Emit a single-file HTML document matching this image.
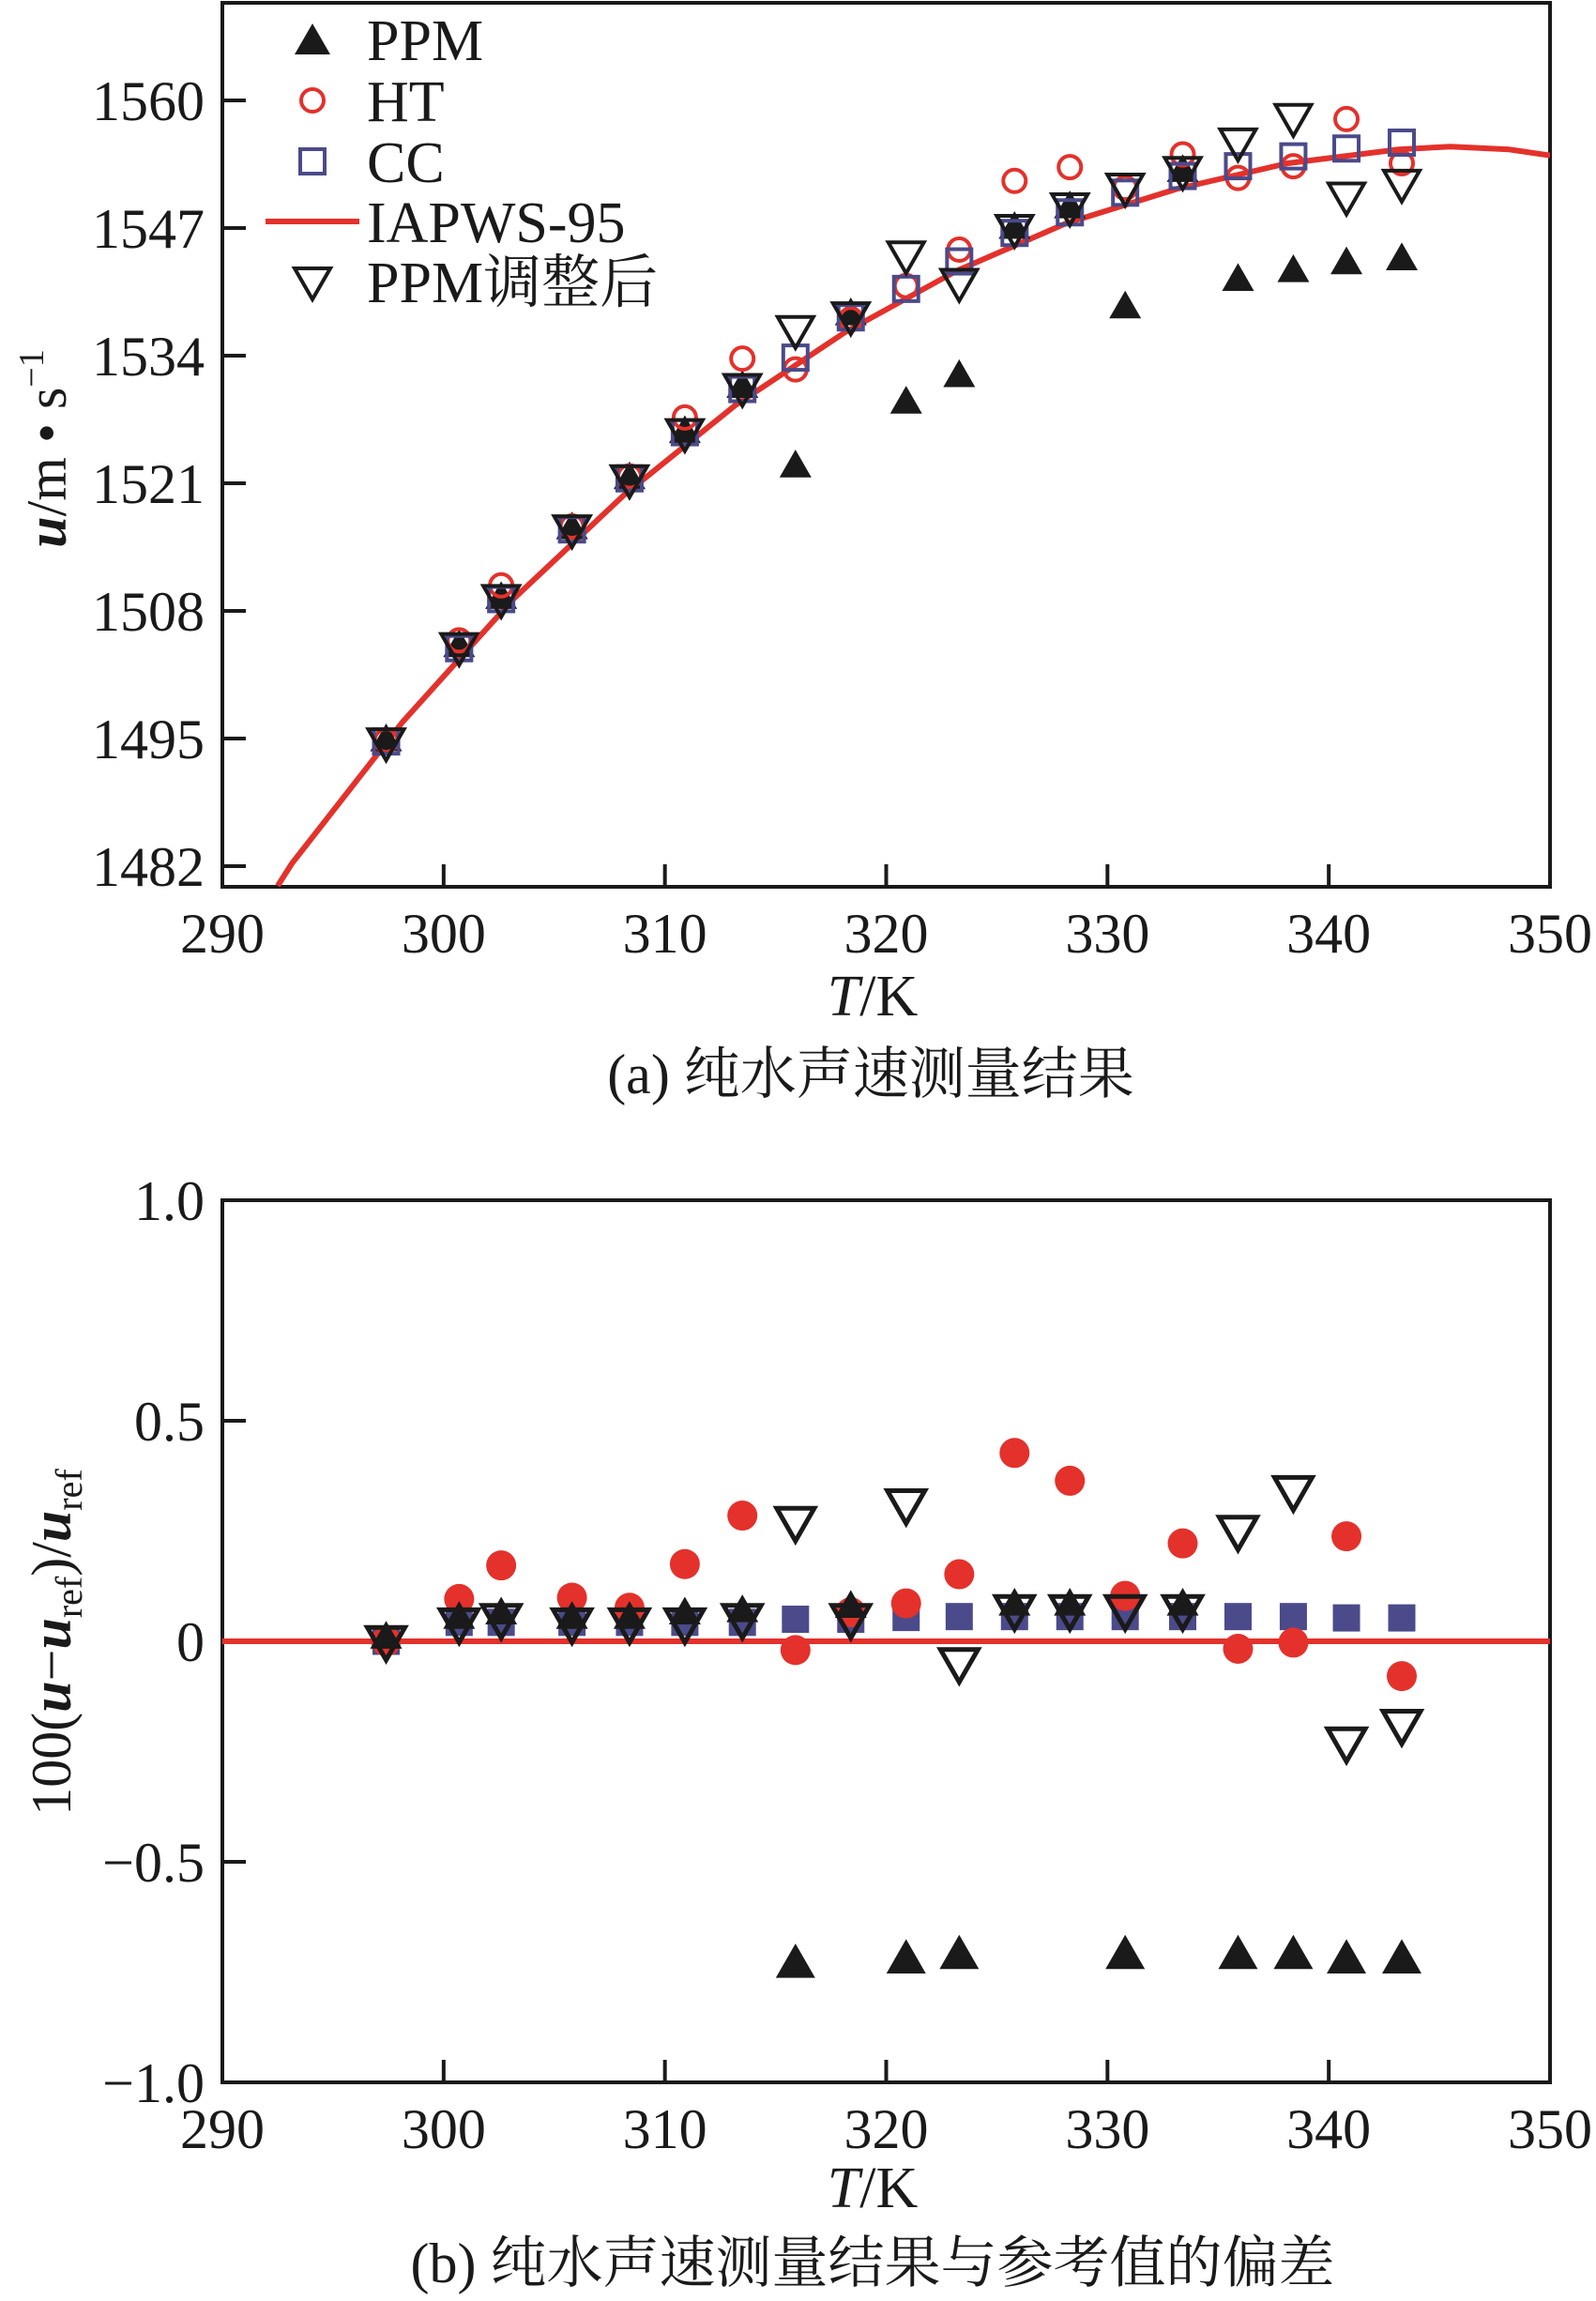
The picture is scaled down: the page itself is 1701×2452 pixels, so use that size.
<!DOCTYPE html>
<html><head><meta charset="utf-8">
<style>
html,body{margin:0;padding:0;background:#fff;}
svg{display:block;}
text{font-family:"Liberation Serif","Noto Serif CJK SC","Noto Sans CJK SC",serif;fill:#1a1a1a;}
</style></head>
<body>
<svg id="fig" width="1701" height="2452" viewBox="0 0 1701 2452" xmlns="http://www.w3.org/2000/svg">
<g id="top"></g>
<g id="bot"></g>
</svg>
<script>
const temps = [297.4,300.7,302.6,305.8,308.4,310.9,313.5,315.9,318.4,320.9,323.3,325.8,328.3,330.8,333.4,335.9,338.4,340.8,343.3];
// top chart values (m/s)
const uPPM = [1494.9,1504.5,1509.4,1516.5,1521.6,1526.3,1530.9,1522.8,1538.3,1529.3,1532.0,1547.1,1549.2,1539.0,1552.9,1541.8,1542.7,1543.5,1543.9];
const uHT  = [1494.8,1505.0,1510.6,1516.6,1521.7,1527.7,1533.7,1532.6,1537.7,1541.1,1544.8,1551.8,1553.2,1551.1,1554.5,1552.1,1553.3,1558.1,1553.6];
const uCC  = [1494.7,1504.2,1509.2,1516.3,1521.5,1526.2,1530.6,1533.8,1537.9,1540.8,1543.6,1546.5,1548.6,1550.6,1552.3,1553.3,1554.3,1555.1,1555.7];
const uADJ = [1494.6,1504.3,1509.2,1516.3,1521.4,1526.1,1530.7,1536.6,1538.0,1544.2,1541.4,1546.9,1549.1,1551.1,1552.8,1555.7,1558.2,1550.2,1551.5];
const refT = [292.5,293.15,298.15,303.15,308.15,313.15,318.15,323.15,328.15,333.15,338.15,343.15,345.5,348.15,350];
const refU = [1480.0,1482.3,1496.7,1509.2,1519.8,1528.9,1536.4,1542.6,1547.5,1551.0,1553.6,1555.0,1555.3,1555.0,1554.4];
const topTicks = [1482,1495,1508,1521,1534,1547,1560];
const xTicks = [290,300,310,320,330,340,350];
// bottom chart deviations (%)
const dPPM = [0.01,0.055,0.065,0.055,0.055,0.065,0.07,-0.73,0.08,-0.72,-0.71,0.085,0.085,-0.71,0.085,-0.71,-0.71,-0.72,-0.72];
const dHT  = [0.00,0.096,0.172,0.099,0.076,0.175,0.285,-0.02,0.066,0.086,0.152,0.427,0.364,0.103,0.222,-0.017,-0.003,0.238,-0.079];
const dCC  = [0.00,0.043,0.043,0.043,0.043,0.043,0.043,0.050,0.050,0.054,0.056,0.056,0.056,0.056,0.056,0.056,0.056,0.053,0.053];
const dADJ = [0.00,0.04,0.05,0.04,0.04,0.04,0.05,0.27,0.05,0.31,-0.05,0.07,0.07,0.07,0.07,0.25,0.34,-0.23,-0.19];
const botTicks = [-1.0,-0.5,0,0.5,1.0];
const botTickLabels = ["\u22121.0","\u22120.5","0","0.5","1.0"];

const NS='http://www.w3.org/2000/svg';
function mk(parent,tag,attrs,text){const e=document.createElementNS(NS,tag);for(const k in attrs)e.setAttribute(k,attrs[k]);if(text!==undefined)e.textContent=text;parent.appendChild(e);return e;}
const RED='#e4312b', BLUE='#4b4a8a', BLK='#1a1a1a';
const L=237,R=1652;
const xs = t => L+(t-290)/60*(R-L);

function triUp(g,x,y,s){return mk(g,'polygon',{points:`${x},${y-s*0.5} ${x-s*0.5},${y+s*0.37} ${x+s*0.5},${y+s*0.37}`,fill:BLK});}
function triDown(g,x,y,s,sw){return mk(g,'polygon',{points:`${x-s*0.5},${y-s*0.37} ${x+s*0.5},${y-s*0.37} ${x},${y+s*0.5}`,fill:'none',stroke:BLK,'stroke-width':sw});}

function frame(g,T,B){
  const f=mk(g,'rect',{x:L,y:T,width:R-L,height:B-T,fill:'none',stroke:BLK,'stroke-width':4});
  
  
  xTicks.forEach(t=>{
    const x=xs(t);
    const tk=mk(g,'line',{x1:x,y1:B,x2:x,y2:B-24,stroke:BLK,'stroke-width':4});
    
    
    const lb=mk(g,'text',{x:x,y:B+70,'font-size':60,'text-anchor':'middle'},String(t));
    
    
  });
}

/* ---------- TOP ---------- */
(function(){
  const g=document.getElementById('top');
  const T=3,B=945;
  const ys=u=>107+(1560-u)*(243-107)/13;
  frame(g,T,B);
  topTicks.forEach(v=>{
    const y=ys(v);
    const tk=mk(g,'line',{x1:L,y1:y,x2:L+25,y2:y,stroke:BLK,'stroke-width':4});
    
    
    const lb=mk(g,'text',{x:218,y:y+21,'font-size':60,'text-anchor':'end'},String(v));
    
    
  });
  let d='';refT.forEach((t,i)=>{d+=(i?'L':'M')+xs(t).toFixed(1)+','+ys(refU[i]).toFixed(1);});
  const cp=mk(g,'clipPath',{id:'clipTop'});mk(cp,'rect',{x:L,y:T,width:R-L,height:B-T});
  const c=mk(g,'path',{d:d,fill:'none',stroke:RED,'stroke-width':6,'clip-path':'url(#clipTop)'});
  
  
  temps.forEach((t,i)=>{
    const x=xs(t);
    const a=triUp(g,x,ys(uPPM[i]),34);
    
    
    const b=mk(g,'circle',{cx:x,cy:ys(uHT[i]),r:12,fill:'none',stroke:RED,'stroke-width':4});
    
    
    const s=mk(g,'rect',{x:x-13,y:ys(uCC[i])-13,width:26,height:26,fill:'none',stroke:BLUE,'stroke-width':4});
    
    
    const v=triDown(g,x,ys(uADJ[i]),38,4);
    
    
  });
  const yt=mk(g,'text',{transform:'translate(70,478) rotate(-90)','font-size':60,'text-anchor':'middle'});
  
  
  yt.innerHTML='<tspan font-style="italic" font-weight="bold">u</tspan>/m \u2022 s<tspan font-size="38" dy="-24">\u22121</tspan>';
  const xt=mk(g,'text',{x:930,y:1082,'font-size':62,'text-anchor':'middle'});
  
  
  xt.innerHTML='<tspan font-style="italic">T</tspan>/K';
  const cap=mk(g,'text',{x:928,y:1165,'font-size':60,'text-anchor':'middle'},'(a) 纯水声速测量结果');
  
  
  const lg=mk(g,'g',{});
  
  
  const rows=[42,107,172,236,300];
  const names=['PPM','HT','CC','IAPWS-95','PPM调整后'];
  triUp(lg,333,rows[0]+2,38);
  mk(lg,'circle',{cx:333,cy:rows[1],r:12,fill:'none',stroke:RED,'stroke-width':4});
  mk(lg,'rect',{x:320,y:rows[2]-13,width:26,height:26,fill:'none',stroke:BLUE,'stroke-width':4});
  mk(lg,'line',{x1:283,y1:rows[3],x2:383,y2:rows[3],stroke:RED,'stroke-width':6});
  triDown(lg,333,rows[4],38,4);
  names.forEach((n,i)=>{
    const e=mk(lg,'text',{x:391,y:rows[i]+22,'font-size':62},n);
    
    
  });
})();

/* ---------- BOTTOM ---------- */
(function(){
  const g=document.getElementById('bot');
  const T=1279,B=2219;
  const ys=v=>1749-v*470;
  frame(g,T,B);
  botTicks.forEach((v,i)=>{
    const y=ys(v);
    const tk=mk(g,'line',{x1:L,y1:y,x2:L+25,y2:y,stroke:BLK,'stroke-width':4});
    
    
    const lb=mk(g,'text',{x:218,y:y+21,'font-size':60,'text-anchor':'end'},botTickLabels[i]);
    
    
  });
  const z=mk(g,'line',{x1:L,y1:ys(0),x2:R,y2:ys(0),stroke:RED,'stroke-width':6});
  
  
  temps.forEach((t,i)=>{
    const x=xs(t);
    const s=mk(g,'rect',{x:x-14.5,y:ys(dCC[i])-14.5,width:29,height:29,fill:BLUE});
    
    
    const b=mk(g,'circle',{cx:x,cy:ys(dHT[i]),r:16,fill:RED});
    
    
    const a=triUp(g,x,ys(dPPM[i]),dPPM[i]<-0.3?42:34);
    
    
    const v=triDown(g,x,ys(dADJ[i]),40,5);
    
    
  });
  const yt=mk(g,'text',{transform:'translate(75,1750) rotate(-90)','font-size':60,'text-anchor':'middle'});
  
  
  yt.innerHTML='100(<tspan font-style="italic" font-weight="bold">u</tspan>\u2212<tspan font-style="italic" font-weight="bold">u</tspan><tspan font-size="40" dy="12">ref</tspan><tspan dy="-12">)/</tspan><tspan font-style="italic" font-weight="bold">u</tspan><tspan font-size="40" dy="12">ref</tspan>';
  const xt=mk(g,'text',{x:930,y:2352,'font-size':62,'text-anchor':'middle'});
  
  
  xt.innerHTML='<tspan font-style="italic">T</tspan>/K';
  const cap=mk(g,'text',{x:930,y:2432,'font-size':60,'text-anchor':'middle'},'(b) 纯水声速测量结果与参考值的偏差');
  
  
})();
</script>
</body></html>
